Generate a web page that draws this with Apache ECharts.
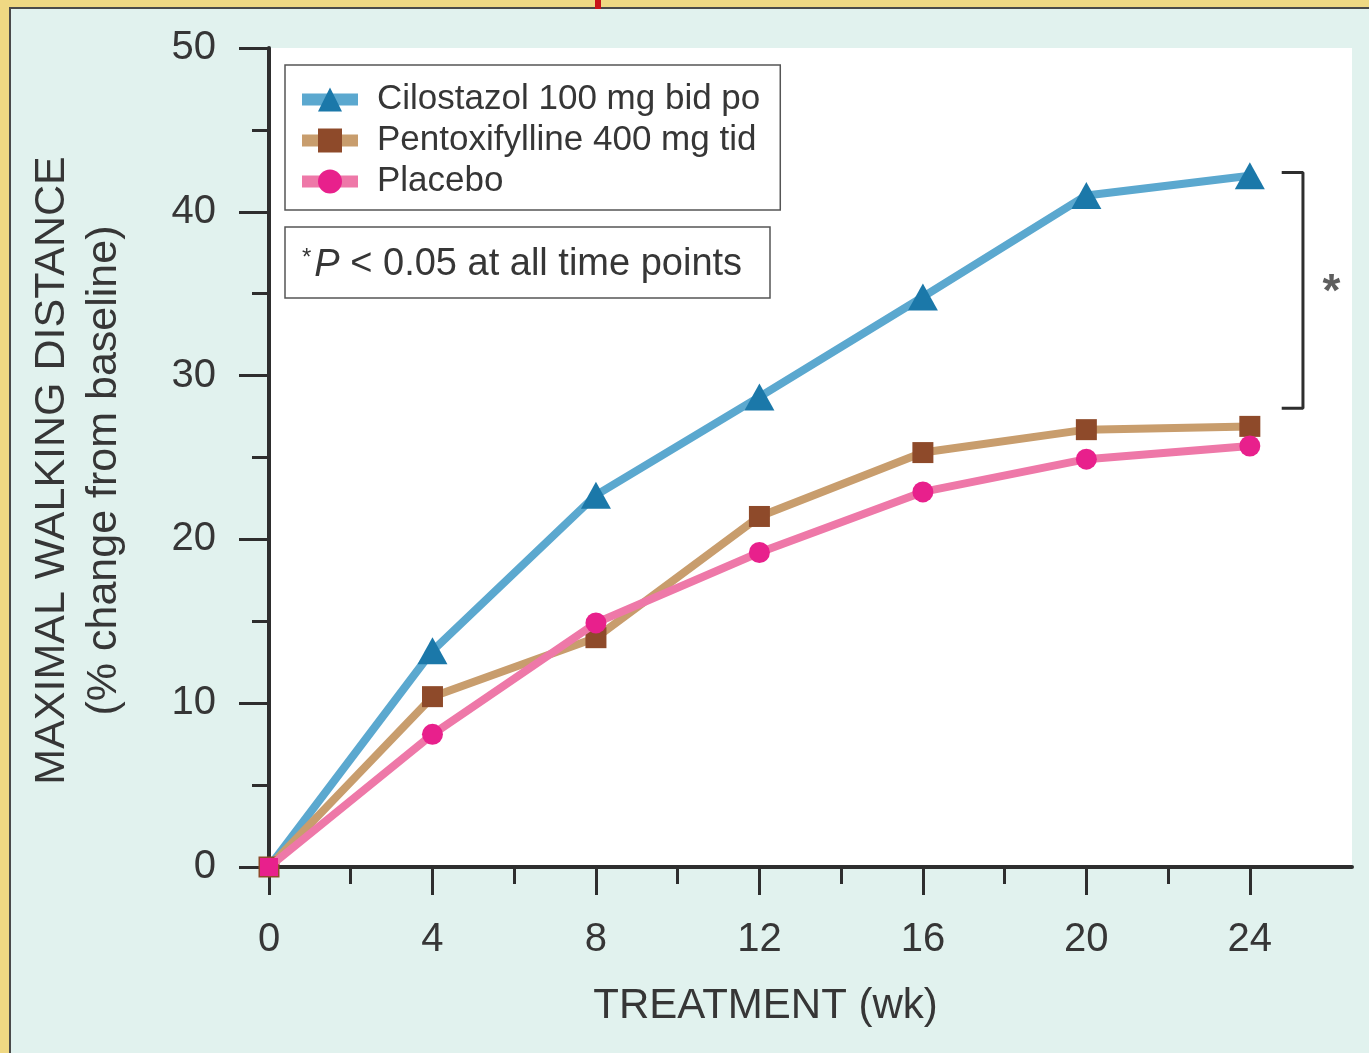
<!DOCTYPE html>
<html>
<head>
<meta charset="utf-8">
<title>Maximal walking distance</title>
<script src="https://cdn.jsdelivr.net/npm/echarts@6/dist/echarts.min.js"></script>
<style>
  html, body { margin: 0; padding: 0; background: #e1f2ee; }
  #chart { width: 1369px; height: 1053px; }
</style>
</head>
<body>
<div id="chart"></div>
<script>
// data
const weeks = [0, 4, 8, 12, 16, 20, 24];
const cilostazol = [0, 13.2, 22.7, 28.7, 34.8, 41.0, 42.2];
const pentoxifylline = [0, 10.4, 14.0, 21.4, 25.3, 26.7, 26.9];
const placebo = [0, 8.1, 14.9, 19.2, 22.9, 24.9, 25.7];
const seriesNames = ['Cilostazol 100 mg bid po', 'Pentoxifylline 400 mg tid', 'Placebo'];

const xMajorTicks = [0, 4, 8, 12, 16, 20, 24];
const xMinorTicks = [2, 6, 10, 14, 18, 22];

// significance bracket (x from/to, y top/bottom) and star position
const bracketX = [24.78, 25.3];
const bracketY = [42.4, 28.0];
const starPos = [26.0, 35.0];

const FONT = "'Liberation Sans', Arial, Helvetica, sans-serif";
const INK = '#2e2e2e';
const TXT = '#363636';

function pairs(vals) {
  return weeks.map((w, i) => [w, vals[i]]);
}

let myChart = echarts.init(document.getElementById('chart'));

// at the origin only the placebo marker is visible, drawn as a square
let cilostazolData = pairs(cilostazol);
cilostazolData[0] = { value: cilostazolData[0], symbol: 'none' };
let placeboData = pairs(placebo);
placeboData[0] = { value: placeboData[0], symbol: 'rect', symbolSize: 18 };

let option = {
  animation: false,
  backgroundColor: '#e1f2ee',
  textStyle: { fontFamily: FONT },
  grid: {
    left: 269, right: 17, top: 48, bottom: 186,
    show: true, backgroundColor: '#ffffff', borderWidth: 0
  },
  legend: {
    data: seriesNames,
    orient: 'vertical',
    left: 285, top: 65,
    padding: [17, 20, 11, 11],
    itemGap: 6,
    itemWidth: 56,
    itemHeight: 30,
    backgroundColor: '#ffffff',
    borderColor: '#555',
    borderWidth: 1.5,
    lineStyle: { width: 12 },
    textStyle: { fontSize: 35, color: TXT, fontFamily: FONT, padding: [0, 0, 0, 14] }
  },
  xAxis: [
    {
      type: 'value', min: 0, max: 26.5,
      axisLine: { show: true, onZero: false, lineStyle: { color: INK, width: 4 } },
      axisTick: { show: true, customValues: xMajorTicks, length: 28, lineStyle: { color: INK, width: 3 } },
      axisLabel: { customValues: xMajorTicks, fontSize: 40, color: TXT, margin: 53, fontFamily: FONT },
      splitLine: { show: false },
      name: 'TREATMENT (wk)',
      nameLocation: 'middle',
      nameGap: 118,
      nameTextStyle: { fontSize: 42, color: TXT, fontFamily: FONT, padding: [0, 90, 0, 0] }
    },
    {
      type: 'value', min: 0, max: 26.5, position: 'bottom',
      axisLine: { show: false },
      axisTick: { show: true, customValues: xMinorTicks, length: 17, lineStyle: { color: INK, width: 3 } },
      axisLabel: { show: false },
      splitLine: { show: false }
    }
  ],
  yAxis: {
    type: 'value', min: 0, max: 50, interval: 10,
    axisLine: { show: true, lineStyle: { color: INK, width: 4 } },
    axisTick: { show: true, length: 30, lineStyle: { color: INK, width: 3 } },
    minorTick: { show: true, splitNumber: 2, length: 17, lineStyle: { color: INK, width: 3 } },
    splitLine: { show: false },
    axisLabel: { fontSize: 40, color: TXT, margin: 53, fontFamily: FONT },
    name: 'MAXIMAL WALKING DISTANCE\n(% change from baseline)',
    nameLocation: 'middle',
    nameRotate: 90,
    nameGap: 139,
    nameTextStyle: { fontSize: 43, lineHeight: 52, color: TXT, fontFamily: FONT, padding: [0, 26, 0, 0] }
  },
  series: [
    {
      name: seriesNames[0], type: 'line', data: cilostazolData,
      symbol: 'triangle', symbolSize: [30, 27],
      lineStyle: { width: 8, color: '#5ba8cf' },
      itemStyle: { color: '#1b78a9' },
      z: 3
    },
    {
      name: seriesNames[1], type: 'line', data: pairs(pentoxifylline),
      symbol: 'rect', symbolSize: 21,
      lineStyle: { width: 8, color: '#c89d6d' },
      itemStyle: { color: '#8e4a2a' },
      z: 4
    },
    {
      name: seriesNames[2], type: 'line', data: placeboData,
      symbol: 'circle', symbolSize: 21,
      lineStyle: { width: 8, color: '#ee78a8' },
      itemStyle: { color: '#e8208c' },
      z: 5
    },
    {
      // bracket
      type: 'line', silent: true, symbol: 'none',
      data: [[bracketX[0], bracketY[0]], [bracketX[1], bracketY[0]], [bracketX[1], bracketY[1]], [bracketX[0], bracketY[1]]],
      lineStyle: { color: INK, width: 3 }
    },
    {
      type: 'scatter', silent: true, data: [starPos], symbolSize: 0,
      label: { show: true, position: 'inside', formatter: '*', fontSize: 46, fontWeight: 'bold', color: TXT, fontFamily: FONT }
    }
  ],
  graphic: [
    // frame of the figure
    { type: 'rect', shape: { x: 0, y: 0, width: 1369, height: 7 }, style: { fill: '#efd883' }, z: 10 },
    { type: 'rect', shape: { x: 0, y: 7, width: 1369, height: 2 }, style: { fill: '#4a4a4a' }, z: 10 },
    { type: 'rect', shape: { x: 0, y: 0, width: 9, height: 1053 }, style: { fill: '#efd883' }, z: 11 },
    { type: 'rect', shape: { x: 9, y: 7, width: 2, height: 1046 }, style: { fill: '#4a4a4a' }, z: 11 },
    { type: 'rect', shape: { x: 595, y: 0, width: 6, height: 9 }, style: { fill: '#c8141a' }, z: 12 },
    // P value note
    {
      type: 'rect', shape: { x: 285, y: 227, width: 485, height: 71 },
      style: { fill: '#ffffff', stroke: '#555', lineWidth: 1.5 }, z: 10
    },
    {
      type: 'text', x: 302, y: 265, z: 11,
      style: {
        text: '{s|*}{i|P} < 0.05 at all time points',
        fontSize: 38, fontFamily: FONT, fill: TXT,
        verticalAlign: 'middle',
        rich: {
          s: { fontSize: 24, fontFamily: FONT, fill: TXT, verticalAlign: 'top', padding: [0, 3, 0, 0] },
          i: { fontSize: 38, fontFamily: FONT, fill: TXT, fontStyle: 'italic' }
        }
      }
    }
  ]
};

myChart.setOption(option);
</script>
</body>
</html>
